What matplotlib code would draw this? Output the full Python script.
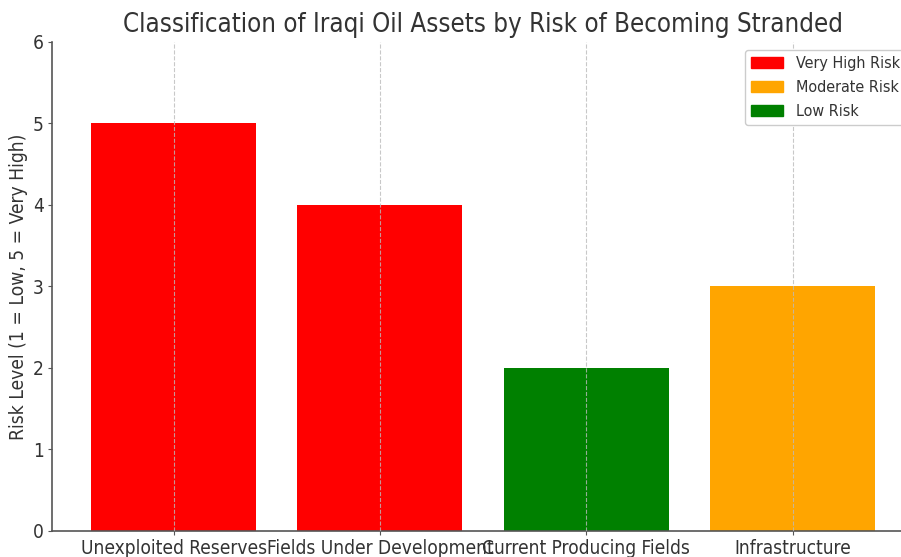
import matplotlib
matplotlib.use("Agg")
import matplotlib.pyplot as plt
from matplotlib.patches import Patch

# Asset categories and their risk scores
categories = ["Unexploited Reserves", "Fields Under Development",
              "Current Producing Fields", "Infrastructure"]
risk_levels = [5, 4, 2, 3]
bar_colors = ["red", "red", "green", "orange"]

legend_labels = ["Very High Risk", "Moderate Risk", "Low Risk"]
legend_colors = ["red", "orange", "green"]

plt.rcParams["font.family"] = ["DejaVu Sans"]
plt.rcParams["font.stretch"] = "condensed"
text_color = "#333333"

fig = plt.figure(figsize=(9.01, 5.57), dpi=100)
ax = fig.add_axes([0.0577, 0.0467, 0.957, 0.878])

ax.bar(categories, risk_levels, color=bar_colors, width=0.8)
ax.set_ylim(0, 6)
ax.set_xlim(-0.59, 3.59)

# dashed vertical grid drawn on top of the bars
ax.set_axisbelow(False)
ax.grid(axis="x", color="#bbbbbb", linestyle="--", linewidth=0.8, alpha=0.8)
for side in ["top", "right"]:
    ax.spines[side].set_visible(False)
for side in ["left", "bottom"]:
    ax.spines[side].set_color("#555555")
    ax.spines[side].set_linewidth(1.2)

ax.tick_params(colors="#555555", labelcolor=text_color, labelsize=13.7,
               length=3, pad=3)
ax.set_ylabel("Risk Level (1 = Low, 5 = Very High)", fontsize=13.8,
              color=text_color, labelpad=3)
ax.set_title("Classification of Iraqi Oil Assets by Risk of Becoming Stranded",
             fontsize=18.5, color=text_color, pad=7)

handles = [Patch(color=c, label=l) for c, l in zip(legend_colors, legend_labels)]
ax.legend(handles=handles, loc="upper right", fontsize=11.5,
          labelcolor=text_color, framealpha=1, labelspacing=0.55)

fig.savefig("out.png", dpi=100)
